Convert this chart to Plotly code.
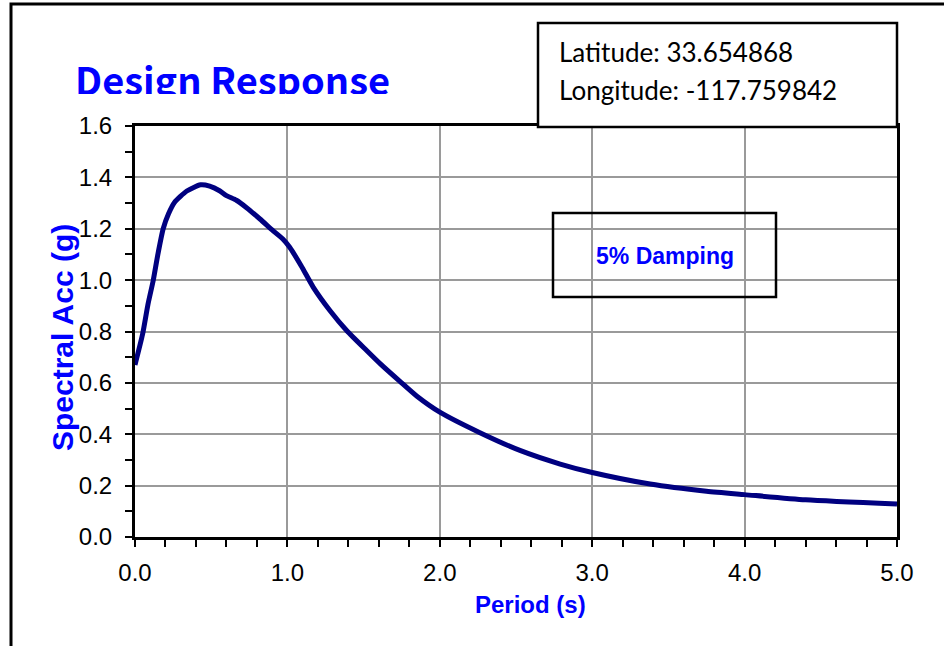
import plotly.graph_objects as go

# ---- data ----
period = [0.0, 0.05, 0.085, 0.12, 0.15, 0.185, 0.22, 0.26, 0.34, 0.43, 0.49, 0.555,
          0.60, 0.665, 0.73, 0.82, 0.905, 0.97, 1.015, 1.09, 1.17, 1.28, 1.39, 1.52,
          1.61, 1.74, 1.85, 2.0, 2.26, 2.53, 2.79, 3.0, 3.38, 3.75, 4.0, 4.4, 5.0]
spectral_acc = [0.67, 0.79, 0.905, 1.0, 1.10, 1.20, 1.258, 1.303, 1.347, 1.371, 1.366, 1.348,
                1.329, 1.311, 1.283, 1.238, 1.193, 1.16, 1.128, 1.056, 0.972, 0.881, 0.803, 0.726,
                0.674, 0.605, 0.548, 0.486, 0.407, 0.336, 0.284, 0.251, 0.206, 0.178, 0.165, 0.145, 0.128]
x_ticks = [0, 1, 2, 3, 4, 5]
x_tick_labels = ["0.0", "1.0", "2.0", "3.0", "4.0", "5.0"]
y_ticks = [0.0, 0.2, 0.4, 0.6, 0.8, 1.0, 1.2, 1.4, 1.6]
y_tick_labels = ["0.0", "0.2", "0.4", "0.6", "0.8", "1.0", "1.2", "1.4", "1.6"]
title_text = "Design Response"
latitude_text = "Latitude: 33.654868"
longitude_text = "Longitude: -117.759842"
damping_text = "5% Damping"
x_title = "Period (s)"
y_title = "Spectral Acc (g)"

# ---- layout geometry (pixels) ----
W, H = 944, 646
L, R, T, B = 135, 897, 126, 537


def px(xp):
    return (xp - L) / (R - L)


def py(yp):
    return (B - yp) / (B - T)


fig = go.Figure()
fig.add_trace(go.Scatter(
    x=period, y=spectral_acc, mode="lines",
    line=dict(color="#000080", width=5, shape="spline", smoothing=0.6),
    hoverinfo="skip", showlegend=False,
))

tickfont = dict(family="Liberation Sans, Arial, sans-serif", size=24, color="black")

fig.update_layout(
    width=W, height=H,
    margin=dict(l=L, r=W - R, t=T, b=H - B, pad=0),
    paper_bgcolor="white", plot_bgcolor="white",
    showlegend=False,
    xaxis=dict(
        range=[0, 5], tickvals=x_ticks, ticktext=x_tick_labels,
        showgrid=True, gridcolor="#9a9a9a", gridwidth=1.5,
        showline=True, linecolor="black", linewidth=3, mirror=True,
        ticks="outside", ticklen=7, tickwidth=2, tickcolor="black",
        minor=dict(dtick=0.2, ticks="outside", ticklen=7, tickwidth=2,
                   tickcolor="black", showgrid=False),
        zeroline=False, tickfont=tickfont, ticklabelstandoff=5,
    ),
    yaxis=dict(
        range=[0, 1.6], tickvals=y_ticks, ticktext=y_tick_labels,
        showgrid=True, gridcolor="#9a9a9a", gridwidth=1.5,
        showline=True, linecolor="black", linewidth=3, mirror=True,
        ticks="outside", ticklen=7, tickwidth=2, tickcolor="black",
        minor=dict(dtick=0.1, ticks="outside", ticklen=7, tickwidth=2,
                   tickcolor="black", showgrid=False),
        zeroline=False, tickfont=tickfont, ticklabelstandoff=8,
    ),
)

shapes = [
    # outer chart frame
    dict(type="rect", xref="paper", yref="paper",
         x0=px(11), x1=px(W + 20), y0=py(H + 20), y1=py(4),
         line=dict(color="black", width=3), fillcolor="rgba(0,0,0,0)", layer="above"),
    # latitude / longitude box
    dict(type="rect", xref="paper", yref="paper",
         x0=px(538), x1=px(897), y0=py(127), y1=py(23),
         line=dict(color="black", width=2.5), fillcolor="white", layer="above"),
    # damping box
    dict(type="rect", xref="paper", yref="paper",
         x0=px(553), x1=px(776), y0=py(297), y1=py(213),
         line=dict(color="black", width=2.5), fillcolor="rgba(0,0,0,0)", layer="above"),
]
fig.update_layout(shapes=shapes)

blue = "#0000FF"
annotations = [
    dict(text=title_text, x=px(73), y=py(96), xref="paper", yref="paper",
         xanchor="left", yanchor="bottom", showarrow=False, yshift=-12,
         font=dict(family="Noto Sans CJK JP, Noto Sans, sans-serif", size=38,
                   color=blue, weight="bold")),
    # cover that clips the descenders of the title, as in the reference
    dict(text=" ", x=px(60), y=py(94), xref="paper", yref="paper",
         xanchor="left", yanchor="top", showarrow=False,
         width=340, height=20, bgcolor="white", borderpad=0, borderwidth=0),
    dict(text=latitude_text, x=px(557), y=py(52), xref="paper", yref="paper",
         xanchor="left", yanchor="middle", showarrow=False,
         font=dict(family="Lato, Open Sans, sans-serif", size=26, color="black")),
    dict(text=longitude_text, x=px(557), y=py(90), xref="paper", yref="paper",
         xanchor="left", yanchor="middle", showarrow=False,
         font=dict(family="Lato, Open Sans, sans-serif", size=26, color="black")),
    dict(text=damping_text, x=px(664.5), y=py(256), xref="paper", yref="paper",
         xanchor="center", yanchor="middle", showarrow=False,
         font=dict(family="Liberation Sans, Arial, sans-serif", size=23,
                   color=blue, weight="bold")),
    dict(text=x_title, x=px(530), y=py(604), xref="paper", yref="paper",
         xanchor="center", yanchor="middle", showarrow=False,
         font=dict(family="Liberation Sans, Arial, sans-serif", size=24,
                   color=blue, weight="bold")),
    dict(text=y_title, x=px(62), y=py(338), xref="paper", yref="paper",
         xanchor="center", yanchor="middle", showarrow=False, textangle=-90,
         font=dict(family="Liberation Sans, Arial, sans-serif", size=30,
                   color=blue, weight="bold")),
]
fig.update_layout(annotations=annotations)

fig.write_html(
    "out.html",
    config={"displayModeBar": False},
    post_script="document.body.style.margin='0px';document.body.style.overflow='hidden';",
)
